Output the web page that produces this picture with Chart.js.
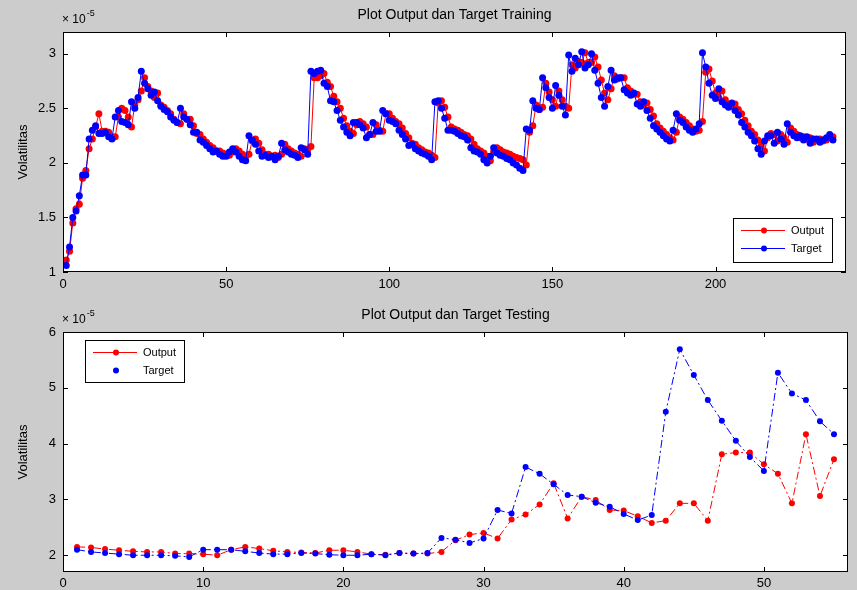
<!DOCTYPE html>
<html>
<head>
<meta charset="utf-8">
<script src="https://cdn.jsdelivr.net/npm/chart.js@4.4.0/dist/chart.umd.min.js"></script>
<style>
  html, body { margin: 0; padding: 0; background: #cccccc; overflow: hidden; }
  .panel { position: absolute; left: 0; width: 857px; height: 295px; }
</style>
</head>
<body>
<div class="panel" style="top:0"><canvas id="grafTraining" width="857" height="295"></canvas></div>
<div class="panel" style="top:295px"><canvas id="grafTesting" width="857" height="295"></canvas></div>
<script>
    // data (satuan x 10^-5)
    const targetTraining = [
        1.06,1.23,1.50,1.56,1.70,1.89,1.89,2.22,2.30,2.34,
        2.27,2.27,2.28,2.24,2.22,2.42,2.48,2.38,2.37,2.35,
        2.56,2.50,2.60,2.84,2.73,2.68,2.62,2.65,2.57,2.52,
        2.49,2.47,2.42,2.39,2.37,2.50,2.42,2.40,2.35,2.28,
        2.28,2.21,2.19,2.16,2.13,2.10,2.11,2.08,2.06,2.06,
        2.10,2.13,2.10,2.06,2.03,2.02,2.25,2.21,2.17,2.11,
        2.06,2.07,2.05,2.06,2.03,2.06,2.18,2.12,2.10,2.08,
        2.07,2.05,2.14,2.12,2.08,2.84,2.82,2.84,2.85,2.73,
        2.70,2.57,2.56,2.48,2.39,2.33,2.28,2.25,2.37,2.37,
        2.35,2.32,2.23,2.26,2.37,2.29,2.29,2.48,2.45,2.39,
        2.38,2.36,2.30,2.26,2.22,2.16,2.17,2.13,2.11,2.09,
        2.08,2.06,2.03,2.56,2.57,2.50,2.41,2.30,2.30,2.29,
        2.27,2.25,2.24,2.21,2.14,2.11,2.10,2.08,2.03,2.00,
        2.06,2.14,2.09,2.07,2.06,2.04,2.03,2.00,1.98,1.95,
        1.93,2.31,2.30,2.57,2.50,2.49,2.78,2.69,2.60,2.50,
        2.71,2.62,2.52,2.44,2.99,2.84,2.96,2.90,3.02,2.87,
        2.90,3.00,2.85,2.73,2.60,2.52,2.70,2.85,2.76,2.78,
        2.78,2.67,2.64,2.62,2.64,2.54,2.52,2.56,2.48,2.41,
        2.34,2.31,2.28,2.25,2.22,2.20,2.30,2.45,2.39,2.37,
        2.33,2.30,2.28,2.31,2.36,3.01,2.88,2.73,2.62,2.59,
        2.68,2.56,2.53,2.51,2.55,2.48,2.44,2.37,2.33,2.28,
        2.25,2.20,2.13,2.08,2.20,2.25,2.25,2.18,2.28,2.22,
        2.17,2.36,2.28,2.25,2.23,2.25,2.21,2.24,2.18,2.22,
        2.22,2.19,2.21,2.23,2.26,2.21
    ];
    const outputTraining = [
        1.11,1.19,1.45,1.58,1.62,1.86,1.93,2.13,2.22,2.33,
        2.45,2.29,2.29,2.28,2.24,2.24,2.42,2.50,2.48,2.42,
        2.33,2.53,2.58,2.66,2.78,2.70,2.66,2.60,2.64,2.53,
        2.51,2.48,2.45,2.40,2.37,2.36,2.45,2.40,2.40,2.34,
        2.27,2.26,2.22,2.19,2.16,2.14,2.11,2.11,2.09,2.08,
        2.07,2.10,2.13,2.11,2.08,2.06,2.08,2.20,2.22,2.18,
        2.12,2.08,2.08,2.06,2.07,2.05,2.08,2.17,2.13,2.11,
        2.09,2.08,2.06,2.13,2.12,2.15,2.78,2.78,2.80,2.82,
        2.74,2.70,2.61,2.56,2.50,2.41,2.34,2.29,2.27,2.35,
        2.38,2.36,2.33,2.26,2.26,2.35,2.30,2.29,2.45,2.45,
        2.41,2.38,2.36,2.32,2.27,2.23,2.18,2.17,2.14,2.12,
        2.10,2.09,2.07,2.05,2.55,2.57,2.51,2.42,2.33,2.31,
        2.30,2.28,2.26,2.25,2.22,2.17,2.13,2.11,2.09,2.06,
        2.02,2.10,2.14,2.12,2.10,2.09,2.08,2.06,2.05,2.04,
        2.03,1.98,2.28,2.34,2.53,2.49,2.51,2.73,2.65,2.58,
        2.52,2.66,2.58,2.52,2.50,2.90,2.87,2.93,2.92,3.01,
        2.92,2.92,2.97,2.88,2.76,2.64,2.58,2.68,2.80,2.77,
        2.78,2.78,2.69,2.66,2.63,2.63,2.56,2.53,2.55,2.49,
        2.43,2.36,2.32,2.29,2.26,2.23,2.21,2.28,2.42,2.40,
        2.37,2.34,2.31,2.29,2.30,2.38,2.83,2.86,2.75,2.64,
        2.60,2.66,2.58,2.54,2.52,2.54,2.49,2.45,2.39,2.34,
        2.29,2.26,2.21,2.16,2.11,2.23,2.27,2.26,2.20,2.26,
        2.23,2.19,2.32,2.29,2.26,2.23,2.24,2.22,2.23,2.19,
        2.21,2.22,2.20,2.21,2.23,2.24
    ];

    const outputTesting = [
        2.15,2.14,2.11,2.09,2.07,2.06,2.06,2.03,2.03,2.02,
        2.00,2.10,2.15,2.12,2.08,2.06,2.05,2.04,2.09,2.09,
        2.06,2.02,2.01,2.04,2.03,2.03,2.06,2.27,2.37,2.40,
        2.30,2.64,2.73,2.91,3.29,2.66,3.05,2.99,2.81,2.80,
        2.70,2.58,2.62,2.93,2.93,2.62,3.81,3.84,3.84,3.63,
        3.46,2.93,4.17,3.06,3.72
    ];
    const targetTesting = [
        2.10,2.06,2.04,2.02,2.00,2.00,2.00,1.99,1.97,2.10,
        2.10,2.10,2.07,2.04,2.02,2.02,2.04,2.03,2.01,2.00,
        2.00,2.02,2.00,2.04,2.03,2.04,2.31,2.28,2.22,2.30,
        2.81,2.75,3.58,3.46,3.27,3.08,3.05,2.94,2.87,2.74,
        2.63,2.72,4.57,5.69,5.23,4.78,4.41,4.05,3.76,3.51,
        5.27,4.90,4.78,4.40,4.17
    ];

    const warnaOutput = '#ff0000';
    const warnaTarget = '#0000ff';
    const fontTeks = '"Liberation Sans", Arial, sans-serif';

    Chart.defaults.font.family = fontTeks;
    Chart.defaults.font.size = 13;
    Chart.defaults.color = '#000000';

    function titik(arr) {
        return arr.map((v, i) => ({ x: i + 1, y: v }));
    }

    // buang tick min/max yang tidak kelipatan langkah
    function saringTick(langkah) {
        return scale => {
            scale.ticks = scale.ticks.filter(t => {
                const k = t.value / langkah;
                return Math.abs(k - Math.round(k)) < 1e-6;
            });
        };
    }

    // label ala matlab: 3, 2.5, 2 ...
    const labelAngka = v => String(Math.round(v * 10) / 10);

    /* gaya kotak ala matlab: box, tick ke dalam, judul, legenda */
    const gayaMatlab = {
        id: 'gayaMatlab',
        beforeDraw(chart) {
            const { ctx, chartArea: a } = chart;
            ctx.save();
            ctx.fillStyle = '#ffffff';
            ctx.fillRect(a.left, a.top, a.width, a.height);
            ctx.restore();
        },
        afterDraw(chart, args, opts) {
            const { ctx, chartArea: a, scales } = chart;
            ctx.save();
            ctx.strokeStyle = '#000000';
            ctx.lineWidth = 1;
            ctx.setLineDash([]);
            ctx.strokeRect(Math.round(a.left) + 0.5, Math.round(a.top) + 0.5,
                Math.round(a.width) - 1, Math.round(a.height) - 1);

            const pjg = 5;
            ctx.beginPath();
            scales.x.ticks.forEach(t => {
                const px = Math.round(scales.x.getPixelForValue(t.value)) + 0.5;
                ctx.moveTo(px, a.bottom); ctx.lineTo(px, a.bottom - pjg);
                ctx.moveTo(px, a.top); ctx.lineTo(px, a.top + pjg);
            });
            scales.y.ticks.forEach(t => {
                const py = Math.round(scales.y.getPixelForValue(t.value)) + 0.5;
                ctx.moveTo(a.left, py); ctx.lineTo(a.left + pjg, py);
                ctx.moveTo(a.right, py); ctx.lineTo(a.right - pjg, py);
            });
            ctx.stroke();

            // judul
            ctx.fillStyle = '#000000';
            ctx.font = '14px ' + fontTeks;
            ctx.textAlign = 'center';
            ctx.textBaseline = 'middle';
            ctx.fillText(opts.judul, (a.left + a.right) / 2, a.top - 17);

            // faktor skala x 10^-5
            ctx.font = '12px ' + fontTeks;
            ctx.textAlign = 'left';
            ctx.fillText('\u00d7 10', a.left - 1, a.top - 12);
            const lebar = ctx.measureText('\u00d7 10').width;
            ctx.font = '9px ' + fontTeks;
            ctx.fillText('-5', a.left - 1 + lebar + 1, a.top - 18);

            // judul sumbu y
            ctx.save();
            ctx.font = '13px ' + fontTeks;
            ctx.translate(23, (a.top + a.bottom) / 2);
            ctx.rotate(-Math.PI / 2);
            ctx.textAlign = 'center';
            ctx.fillText('Volatilitas', 0, 0);
            ctx.restore();

            // legenda
            const lg = opts.legenda;
            ctx.fillStyle = '#ffffff';
            ctx.fillRect(lg.x, lg.y, lg.w, lg.h);
            ctx.strokeStyle = '#000000';
            ctx.strokeRect(lg.x + 0.5, lg.y + 0.5, lg.w, lg.h);
            lg.item.forEach((it, i) => {
                const yy = lg.y + 12 + i * 18;
                if (it.garis) {
                    ctx.strokeStyle = it.warna;
                    ctx.beginPath();
                    ctx.moveTo(lg.x + 8, yy + 0.5);
                    ctx.lineTo(lg.x + 52, yy + 0.5);
                    ctx.stroke();
                }
                ctx.fillStyle = it.warna;
                ctx.beginPath();
                ctx.arc(lg.x + 31, yy + 0.5, 3, 0, Math.PI * 2);
                ctx.fill();
                ctx.fillStyle = '#000000';
                ctx.font = '11px ' + fontTeks;
                ctx.textAlign = 'left';
                ctx.fillText(it.label, lg.x + 58, yy + 1);
            });
            ctx.restore();
        }
    };

    function dataset(label, arr, warna, putus, radius) {
        return {
            label: label,
            data: titik(arr),
            borderColor: warna,
            backgroundColor: warna,
            pointBackgroundColor: warna,
            pointBorderColor: warna,
            pointBorderWidth: 0,
            pointRadius: radius,
            borderWidth: 1,
            borderDash: putus ? [8, 3, 2, 3] : [],
            tension: 0,
            fill: false
        };
    }

    function opsi(cfg) {
        return {
            responsive: false,
            animation: false,
            devicePixelRatio: 1,
            layout: { padding: { top: cfg.padTop, right: cfg.padRight, left: 0, bottom: 0 } },
            plugins: {
                legend: { display: false },
                tooltip: { enabled: false },
                gayaMatlab: { judul: cfg.judul, legenda: cfg.legenda }
            },
            scales: {
                x: {
                    type: 'linear',
                    min: cfg.xMin, max: cfg.xMax,
                    grid: { display: false, drawTicks: false },
                    border: { display: false },
                    ticks: { stepSize: cfg.xStep, padding: cfg.xPad, maxRotation: 0, callback: labelAngka },
                    afterBuildTicks: saringTick(cfg.xStep),
                    afterFit: s => { s.height = cfg.xTinggi; }
                },
                y: {
                    min: cfg.yMin, max: cfg.yMax,
                    grid: { display: false, drawTicks: false },
                    border: { display: false },
                    ticks: { stepSize: cfg.yStep, padding: 7, callback: labelAngka },
                    afterBuildTicks: saringTick(cfg.yStep),
                    afterFit: s => { s.width = 63; }
                }
            }
        };
    }

    new Chart(document.getElementById('grafTraining'), {
        type: 'line',
        data: {
            datasets: [
                dataset('Target', targetTraining, warnaTarget, false, 3.5),
                dataset('Output', outputTraining, warnaOutput, false, 3.5)
            ]
        },
        options: opsi({
            judul: 'Plot Output dan Target Training',
            padTop: 32, padRight: 11,
            xMin: 0, xMax: 240, xStep: 50, xPad: 5, xTinggi: 23,
            yMin: 1, yMax: 3.2, yStep: 0.5,
            legenda: {
                x: 733, y: 218, w: 99, h: 44,
                item: [
                    { label: 'Output', warna: warnaOutput, garis: true },
                    { label: 'Target', warna: warnaTarget, garis: true }
                ]
            }
        }),
        plugins: [gayaMatlab]
    });

    new Chart(document.getElementById('grafTesting'), {
        type: 'line',
        data: {
            datasets: [
                dataset('Target', targetTesting, warnaTarget, true, 3),
                dataset('Output', outputTesting, warnaOutput, true, 3)
            ]
        },
        options: opsi({
            judul: 'Plot Output dan Target Testing',
            padTop: 37, padRight: 9,
            xMin: 0, xMax: 56, xStep: 10, xPad: 4, xTinggi: 18,
            yMin: 1.7, yMax: 6, yStep: 1,
            legenda: {
                x: 85, y: 45, w: 99, h: 42,
                item: [
                    { label: 'Output', warna: warnaOutput, garis: true },
                    { label: 'Target', warna: warnaTarget, garis: false }
                ]
            }
        }),
        plugins: [gayaMatlab]
    });
</script>
</body>
</html>
